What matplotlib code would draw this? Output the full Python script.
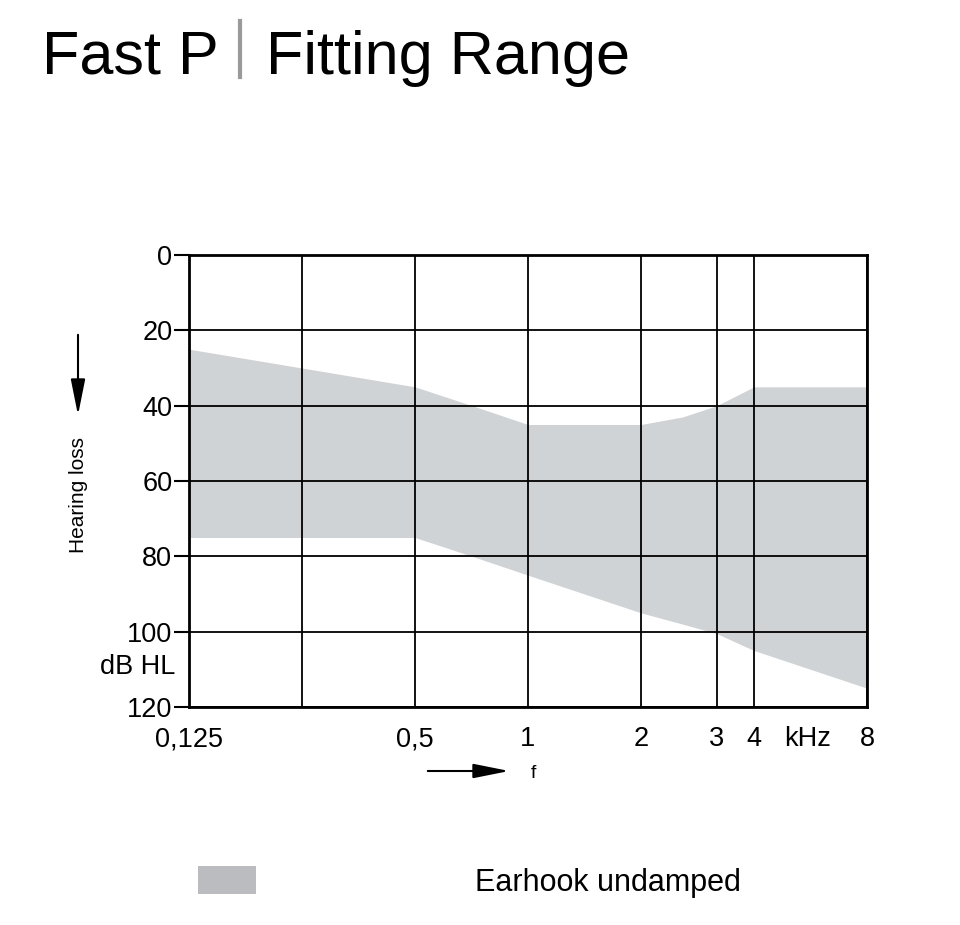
import numpy as np
import matplotlib
matplotlib.use('Agg')
import matplotlib.pyplot as plt
from matplotlib.lines import Line2D
from matplotlib.patches import Patch

plt.rcParams['font.family'] = ['Liberation Sans', 'DejaVu Sans']

# data (kHz, dB HL)
freq = [0.125, 0.25, 0.5, 0.71, 1, 2, 2.5, 3, 4, 8]
upper = [25, 30, 35, 40, 45, 45, 43, 40, 35, 35]
lower = [75, 75, 75, 80, 85, 95, 98, 100.5, 105, 115]

xticks = [0.125, 0.25, 0.5, 1, 2, 3, 4, 8]
xlabels = ['0,125', '', '0,5', '1', '2', '3', '4', '8']
yticks = [0, 20, 40, 60, 80, 100, 120]

# audiogram frequency axis: octaves, with 3 kHz drawn a bit closer to 4 kHz
oct_in = [-20, 4, 4 + np.log2(1.5), 5, 30]
oct_out = [-20, 4, 4.67, 5, 30]

def fwd(f):
    o = np.log2(np.clip(f, 1e-9, None)) + 3
    return np.interp(o, oct_in, oct_out)

def inv(p):
    return 2 ** (np.interp(p, oct_out, oct_in) - 3)

fig = plt.figure(figsize=(9.6, 9.25), dpi=100)
ax = fig.add_axes([189/960, 1-707/925, 678/960, 452/925])

ax.fill_between(freq, upper, lower, color='#d0d3d6', lw=0, zorder=0.2)

ax.set_xscale('function', functions=(fwd, inv))
ax.set_xlim(0.125, 8)
ax.set_ylim(120, 0)
ax.set_xticks(xticks)
ax.set_xticklabels(xlabels)
ax.set_yticks(yticks)
ax.minorticks_off()
ax.grid(True, color='black', lw=1.3)

for s in ax.spines.values():
    s.set_linewidth(2)
ax.tick_params(axis='x', length=0, pad=14, labelsize=19.5)
ax.tick_params(axis='y', length=11, width=1.5, pad=1, labelsize=19.5)

ax.text(5.55, -0.071, 'kHz', transform=ax.get_xaxis_transform(),
        fontsize=19.5, ha='center', va='center')
ax.text(-0.02, 109.5, 'dB HL', transform=ax.get_yaxis_transform(),
        fontsize=19.5, ha='right', va='center')

# axis captions with arrows
fig.text(78/960, 1-495/925, 'Hearing loss', rotation=90, fontsize=15,
         ha='center', va='center')
ax.annotate('', xy=(78/960, 1-418/925), xytext=(78/960, 1-332/925),
            xycoords='figure fraction', textcoords='figure fraction',
            arrowprops=dict(arrowstyle='-|>,head_length=1.1,head_width=0.22',
                            color='black', lw=1.5, mutation_scale=20))
ax.annotate('', xy=(512/960, 1-771/925), xytext=(425/960, 1-771/925),
            xycoords='figure fraction', textcoords='figure fraction',
            arrowprops=dict(arrowstyle='-|>,head_length=1.1,head_width=0.22',
                            color='black', lw=1.5, mutation_scale=20))
fig.text(533/960, 1-773/925, 'f', fontsize=14, ha='center', va='center')

# title
fig.text(42/960, 1-74/925, 'Fast P', fontsize=44, va='baseline')
fig.text(266/960, 1-74/925, 'Fitting Range', fontsize=44, va='baseline')
fig.add_artist(Line2D([240/960, 240/960], [1-21/925, 1-77/925],
                      color='#9a9a9a', lw=3))

ax.legend(handles=[Patch(color='#babcbf', lw=0, label='Earhook undamped')],
          loc='center left', bbox_to_anchor=(198/960, 1-882/925),
          bbox_transform=fig.transFigure, frameon=False, fontsize=22,
          handlelength=1.9, handleheight=1.0, handletextpad=7.15,
          borderpad=0, borderaxespad=0)

fig.savefig('out.png', dpi=100)
